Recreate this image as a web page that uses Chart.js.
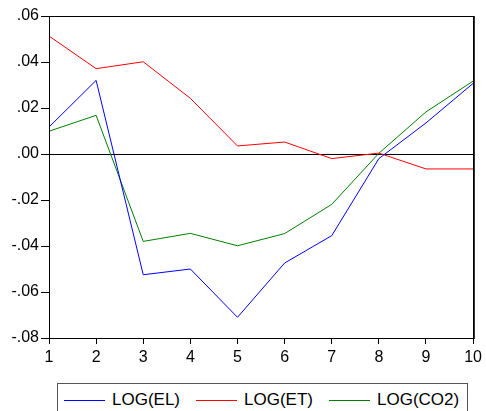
<!DOCTYPE html>
<html>
<head>
<meta charset="utf-8">
<script src="https://cdn.jsdelivr.net/npm/chart.js@4/dist/chart.umd.min.js"></script>
<style>
  html, body { margin: 0; padding: 0; background: #fff; overflow: hidden; }
  #wrap { position: relative; width: 486px; height: 411px; }
  #chart { position: absolute; left: 0; top: 0; }
  #legend {
    position: absolute; left: 57px; top: 383px; width: 411px; height: 40px;
    border: 1px solid #555; box-sizing: border-box;
    font-family: "Liberation Sans", Arial, sans-serif; font-size: 17px; color: #000;
  }
  .swatch { position: absolute; top: 16px; width: 41px; height: 1px; }
  .label { position: absolute; top: 6px; line-height: 20px; white-space: nowrap; }
</style>
</head>
<body>
<div id="wrap">
  <canvas id="chart" width="486" height="380"></canvas>
  <div id="legend"></div>
</div>
<script>
// data
const periods = [1, 2, 3, 4, 5, 6, 7, 8, 9, 10];
const logEL  = [0.0117, 0.0320, -0.0525, -0.0500, -0.0710, -0.0474, -0.0355, -0.0020, 0.0135, 0.0307];
const logET  = [0.0513, 0.0371, 0.0401, 0.0242, 0.0035, 0.0052, -0.0020, 0.0004, -0.0065, -0.0065];
const logCO2 = [0.0099, 0.0168, -0.0380, -0.0345, -0.0399, -0.0346, -0.0219, 0.0003, 0.0183, 0.0317];
const yTicks = [0.06, 0.04, 0.02, 0.00, -0.02, -0.04, -0.06, -0.08];

const seriesNames = ["LOG(EL)", "LOG(ET)", "LOG(CO2)"];
const seriesColors = ["#0000ff", "#ff0000", "#008000"];
const seriesData = [logEL, logET, logCO2];

// ".06", "-.02" style labels like EViews
function fmtTick(v) {
  let s = Math.abs(v).toFixed(2).replace(/^0/, "");
  return (v < -1e-9 ? "-" : "") + s;
}

// box around plot + zero line
const framePlugin = {
  id: "frame",
  beforeDatasetsDraw(chart) {
    const { ctx, chartArea: a, scales } = chart;
    const y0 = Math.round(scales.y.getPixelForValue(0)) + 0.5;
    ctx.save();
    ctx.strokeStyle = "#000";
    ctx.lineWidth = 1;
    ctx.beginPath();
    ctx.moveTo(a.left, y0);
    ctx.lineTo(a.right, y0);
    ctx.stroke();
    ctx.restore();
  },
  afterDraw(chart) {
    const { ctx, chartArea: a } = chart;
    ctx.save();
    ctx.strokeStyle = "#000";
    ctx.lineWidth = 1;
    ctx.strokeRect(Math.round(a.left) + 0.5, Math.round(a.top) + 0.5,
      Math.round(a.right - a.left), Math.round(a.bottom - a.top));
    // right edge is a bit heavier in the original
    ctx.strokeStyle = "#333";
    ctx.beginPath();
    ctx.moveTo(Math.round(a.right) + 1.5, a.top);
    ctx.lineTo(Math.round(a.right) + 1.5, a.bottom + 1);
    ctx.stroke();
    ctx.restore();
  }
};

const datasets = seriesData.map((d, i) => ({
  label: seriesNames[i],
  data: d.map((v, j) => ({ x: periods[j], y: v })),
  borderColor: seriesColors[i],
  borderWidth: 1,
  pointRadius: 0,
  tension: 0,
  fill: false
}));

const tickFont = { family: "'Liberation Sans', Arial, sans-serif", size: 16 };

new Chart(document.getElementById("chart"), {
  type: "line",
  data: { datasets },
  options: {
    responsive: false,
    animation: false,
    events: [],
    layout: { padding: { top: 16, right: 10, left: 0, bottom: 0 } },
    plugins: { legend: { display: false }, tooltip: { enabled: false } },
    scales: {
      x: {
        type: "linear",
        min: 1, max: 10,
        afterFit: s => { s.height = 42; },
        afterBuildTicks: s => { s.ticks = periods.map(v => ({ value: v })); },
        ticks: { color: "#000", font: tickFont, padding: 4, maxRotation: 0, autoSkip: false },
        grid: { drawOnChartArea: false, drawTicks: true, tickLength: 6, color: "#000" },
        border: { color: "#000" }
      },
      y: {
        min: -0.08, max: 0.06,
        afterFit: s => { s.width = 49; },
        afterBuildTicks: s => { s.ticks = yTicks.map(v => ({ value: v })); },
        ticks: { color: "#000", font: tickFont, padding: 2, callback: v => fmtTick(v) },
        grid: { drawOnChartArea: false, drawTicks: true, tickLength: 8, color: "#000" },
        border: { color: "#000" }
      }
    }
  },
  plugins: [framePlugin]
});

// legend (positions relative to the legend box)
const legend = document.getElementById("legend");
const swatchLeft = [6, 138, 271];
const labelLeft = [54, 186, 319];
seriesNames.forEach((name, i) => {
  const sw = document.createElement("div");
  sw.className = "swatch";
  sw.style.left = swatchLeft[i] + "px";
  sw.style.background = seriesColors[i];
  legend.appendChild(sw);
  const lb = document.createElement("div");
  lb.className = "label";
  lb.style.left = labelLeft[i] + "px";
  lb.textContent = name;
  legend.appendChild(lb);
});
</script>
</body>
</html>
